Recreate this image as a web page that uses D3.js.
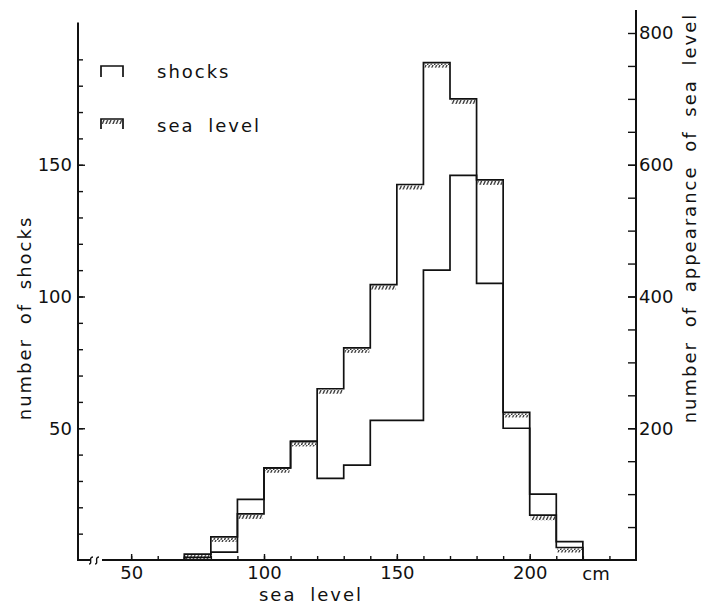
<!DOCTYPE html>
<html>
<head>
    <meta charset="utf-8">
    <title>shocks and sea level</title>
    <script src="https://d3js.org/d3.v7.min.js"></script>
    <style>
        body { margin: 0; background: #fff; }
        text {
            font-family: "DejaVu Sans", sans-serif;
            font-size: 18px;
            fill: #111;
        }
        .label { letter-spacing: 2px; word-spacing: 6px; }
        .step { fill: none; stroke: #111; stroke-width: 1.7px; }
        .axis-line { stroke: #111; stroke-width: 2px; fill: none; }
        .tick line { stroke: #111; stroke-width: 1.4px; }
    </style>
</head>
<body>
<div id="chart"></div>
<script>
    // bin edges (cm) and counts per bin
    const binEdges = [70, 80, 90, 100, 110, 120, 130, 140, 150, 160, 170, 180, 190, 200, 210, 220];
    const shocks = [1, 3, 23, 35, 45, 31, 36, 53, 53, 110, 146, 105, 50, 25, 7];
    const seaLevel = [9, 35, 70, 140, 180, 260, 322, 418, 570, 755, 700, 577, 224, 68, 19];

    const xTicksMinor = d3.range(50, 231, 10);
    const xTicksMajor = [50, 100, 150, 200];
    const leftTicksMinor = d3.range(10, 191, 10);
    const leftTicksMajor = [50, 100, 150];
    const rightTicksMinor = d3.range(50, 751, 50);
    const rightTicksMajor = [200, 400, 600, 800];

    const width = 704, height = 606;
    const x0 = 78, x1 = 636, yBase = 560;

    const svg = d3.select("#chart").append("svg")
        .attr("width", width)
        .attr("height", height);

    const x = d3.scaleLinear().domain([30, 240]).range([x0, x1]);
    const yL = d3.scaleLinear().domain([0, 200]).range([yBase, yBase - 200 * 2.635]);
    const yR = d3.scaleLinear().domain([0, 800]).range([yBase, yBase - 200 * 2.635]);

    // hatch pattern for sea level tops
    const defs = svg.append("defs");
    defs.append("pattern")
        .attr("id", "hatch")
        .attr("patternUnits", "userSpaceOnUse")
        .attr("width", 3.5).attr("height", 5)
        .append("path")
        .attr("d", "M0.4,5 L2.6,0")
        .attr("stroke", "#111")
        .attr("stroke-width", 1.2);

    // axis lines
    svg.append("path").attr("class", "axis-line")
        .attr("d", `M${x0},${yL(204)}V${yBase}H${x0 + 12}`);
    svg.append("path").attr("class", "axis-line")
        .attr("d", `M${x0 + 24},${yBase}H${x1}V${yR(835)}`);
    // axis break
    svg.append("path").attr("class", "axis-line")
        .style("stroke-width", "1.4px")
        .attr("d", `M${x0 + 11},${yBase + 4} C${x0 + 15},${yBase + 4} ${x0 + 10},${yBase - 3} ${x0 + 15},${yBase - 3}` +
            ` M${x0 + 17},${yBase + 4} C${x0 + 21},${yBase + 4} ${x0 + 16},${yBase - 3} ${x0 + 21},${yBase - 3}`);

    // x axis ticks
    const gx = svg.append("g").attr("transform", `translate(0,${yBase})`);
    gx.call(d3.axisBottom(x).tickValues(xTicksMinor).tickSize(-4).tickFormat(""));
    gx.append("g").call(d3.axisBottom(x).tickValues(xTicksMajor).tickSize(-6).tickPadding(6));
    gx.selectAll(".domain").remove();
    gx.selectAll("text").attr("font-family", null).attr("font-size", null);

    // left axis ticks
    const gl = svg.append("g").attr("transform", `translate(${x0},0)`);
    gl.call(d3.axisLeft(yL).tickValues(leftTicksMinor).tickSize(-5).tickFormat(""));
    gl.append("g").call(d3.axisLeft(yL).tickValues(leftTicksMajor).tickSize(-7).tickPadding(6));
    gl.selectAll(".domain").remove();
    gl.selectAll("text").attr("font-family", null).attr("font-size", null);

    // right axis ticks
    const gr = svg.append("g").attr("transform", `translate(${x1},0)`);
    gr.call(d3.axisRight(yR).tickValues(rightTicksMinor).tickSize(-8).tickFormat(""));
    gr.append("g").call(d3.axisRight(yR).tickValues(rightTicksMajor).tickSize(-8).tickPadding(3));
    gr.selectAll(".domain").remove();
    gr.selectAll("text").attr("font-family", null).attr("font-size", null);

    // step outline for one series
    function stepPoints(values) {
        const pts = [[binEdges[0], 0]];
        values.forEach((v, i) => {
            pts.push([binEdges[i], v]);
            pts.push([binEdges[i + 1], v]);
        });
        pts.push([binEdges[binEdges.length - 1], 0]);
        return pts;
    }

    const bins = seaLevel.map((v, i) => ({ a: binEdges[i], b: binEdges[i + 1], v }));

    svg.selectAll(".hatch")
        .data(bins)
        .join("rect")
        .attr("class", "hatch")
        .attr("x", d => x(d.a) + 1)
        .attr("width", d => x(d.b) - x(d.a) - 2)
        .attr("y", d => yR(d.v) + 1)
        .attr("height", 4)
        .attr("fill", "url(#hatch)");

    svg.append("path").attr("class", "step")
        .attr("d", d3.line().x(d => x(d[0])).y(d => yR(d[1]))(stepPoints(seaLevel)));
    svg.append("path").attr("class", "step")
        .attr("d", d3.line().x(d => x(d[0])).y(d => yL(d[1]))(stepPoints(shocks)));

    // axis titles
    svg.append("text").attr("class", "label")
        .attr("x", 311).attr("y", 601)
        .attr("text-anchor", "middle")
        .text("sea level");
    svg.append("text")
        .attr("x", 596).attr("y", 580)
        .attr("text-anchor", "middle")
        .text("cm");
    svg.append("text").attr("class", "label")
        .attr("transform", "translate(31,318) rotate(-90)")
        .attr("text-anchor", "middle")
        .text("number of shocks");
    svg.append("text").attr("class", "label")
        .attr("transform", "translate(696,218) rotate(-90)")
        .attr("text-anchor", "middle")
        .text("number of appearance of sea level");

    // legend
    const legend = svg.append("g");
    legend.append("path").attr("class", "step")
        .attr("d", "M101,77V66H123V77");
    legend.append("text").attr("class", "label")
        .attr("x", 157).attr("y", 78).text("shocks");
    legend.append("rect")
        .attr("x", 102).attr("y", 120).attr("width", 20).attr("height", 4)
        .attr("fill", "url(#hatch)");
    legend.append("path").attr("class", "step")
        .attr("d", "M101,129V119H123V129");
    legend.append("text").attr("class", "label")
        .attr("x", 157).attr("y", 132).text("sea level");
</script>
</body>
</html>
